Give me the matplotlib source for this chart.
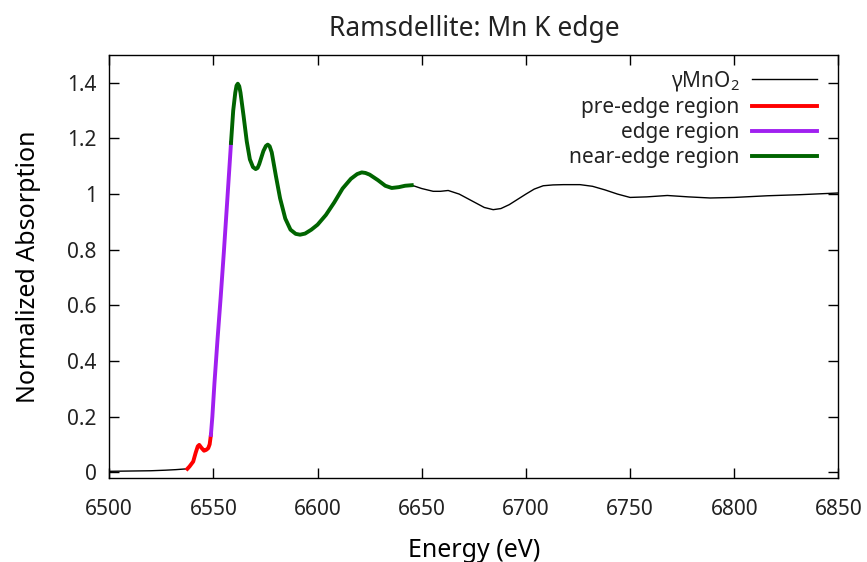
import matplotlib
matplotlib.use("Agg")
import matplotlib.pyplot as plt
import numpy as np

# Mn K-edge XANES of ramsdellite (gamma-MnO2)
energy = [
    6500, 6510, 6520, 6527, 6532, 6537.5,
    6538.5, 6540.3, 6541.5, 6542.5, 6543.2, 6544.2, 6545.5, 6546.5, 6547.5, 6548.2, 6548.8,
    6549.5, 6550.5, 6552, 6553.5, 6555, 6556.5, 6558.45,
    6559.5, 6560.5, 6561.1, 6561.7, 6562.4, 6563, 6564.5, 6566, 6567.5, 6569, 6570.3,
    6571.2, 6572, 6574, 6575.2, 6576.1, 6577, 6578, 6580, 6582, 6584.5, 6587, 6589.5,
    6591.6, 6594, 6597, 6600,
    6604, 6608, 6612, 6616, 6619, 6621.2, 6623, 6625, 6629, 6632.5, 6635.6, 6639, 6642, 6645.2,
    6650, 6655.5, 6659, 6662.7, 6668, 6676, 6680, 6684.3, 6688, 6692, 6700, 6704, 6708.3,
    6713, 6718, 6726, 6732, 6738, 6744, 6750, 6758, 6767.9, 6778, 6788.5, 6800, 6815.9,
    6832, 6850,
]
absorption = [
    0.003, 0.004, 0.005, 0.007, 0.009, 0.012,
    0.020, 0.038, 0.070, 0.093, 0.098, 0.088, 0.077, 0.080, 0.086, 0.100, 0.134,
    0.200, 0.320, 0.480, 0.630, 0.790, 0.960, 1.184,
    1.300, 1.365, 1.390, 1.397, 1.388, 1.365, 1.280, 1.190, 1.125, 1.097, 1.090,
    1.094, 1.108, 1.155, 1.173, 1.178, 1.172, 1.150, 1.065, 0.985, 0.912, 0.872, 0.857,
    0.854, 0.858, 0.872, 0.890,
    0.925, 0.970, 1.020, 1.055, 1.072, 1.078, 1.076, 1.070, 1.050, 1.030, 1.022, 1.025, 1.030, 1.032,
    1.020, 1.010, 1.010, 1.013, 1.000, 0.968, 0.952, 0.944, 0.948, 0.962, 1.000, 1.018, 1.030,
    1.033, 1.034, 1.034, 1.028, 1.015, 1.000, 0.988, 0.990, 0.995, 0.990, 0.986, 0.988, 0.994,
    0.998, 1.004,
]

# energy windows of the highlighted regions (eV)
pre_edge = (6537.5, 6548.8)
edge = (6548.8, 6558.45)
near_edge = (6558.45, 6645.2)

x_ticks = [6500, 6550, 6600, 6650, 6700, 6750, 6800, 6850]
y_ticks = [0, 0.2, 0.4, 0.6, 0.8, 1.0, 1.2, 1.4]
y_labels = ["0", "0.2", "0.4", "0.6", "0.8", "1", "1.2", "1.4"]

plt.rcParams.update({
    "font.family": ["Noto Sans", "DejaVu Sans"],
    "font.size": 15,
    "axes.linewidth": 1.0,
    "text.color": "#222222",
})

E = np.array(energy)
A = np.array(absorption)


def region(bounds):
    m = (E >= bounds[0]) & (E <= bounds[1])
    return E[m], A[m]


fig = plt.figure(figsize=(8.67, 5.62), dpi=100)
ax = fig.add_axes([0.126, 0.150, 0.841, 0.752])

ax.plot(E, A, color="black", lw=1.0, label=r"$\mathregular{\gamma MnO_2}$")
ax.plot(*region(pre_edge), color="#ff0000", lw=2.8, label="pre-edge region")
ax.plot(*region(edge), color="#a020f0", lw=2.8, label="edge region")
ax.plot(*region(near_edge), color="#006400", lw=2.8, label="near-edge region")

ax.set_xlim(6500, 6850)
ax.set_ylim(-0.02, 1.5)
ax.set_xticks(x_ticks)
ax.set_yticks(y_ticks)
ax.set_yticklabels(y_labels)
ax.tick_params(direction="in", length=7, width=1, top=True, right=True,
               labelsize=15, colors="black", labelcolor="#222222")
ax.tick_params(axis="x", pad=15)
ax.tick_params(axis="y", pad=9)

ax.set_title("Ramsdellite: Mn K edge", fontsize=19, pad=14)
ax.set_xlabel("Energy (eV)", fontsize=18, labelpad=13)
ax.set_ylabel("Normalized Absorption", fontsize=18, labelpad=19)

ax.legend(loc="upper right", frameon=False, markerfirst=False,
          handlelength=3.1, handletextpad=0.62, labelspacing=0.2,
          fontsize=15, borderaxespad=0.5, bbox_to_anchor=(0.996, 1.012))

fig.savefig("out.png", dpi=100, facecolor="white")
